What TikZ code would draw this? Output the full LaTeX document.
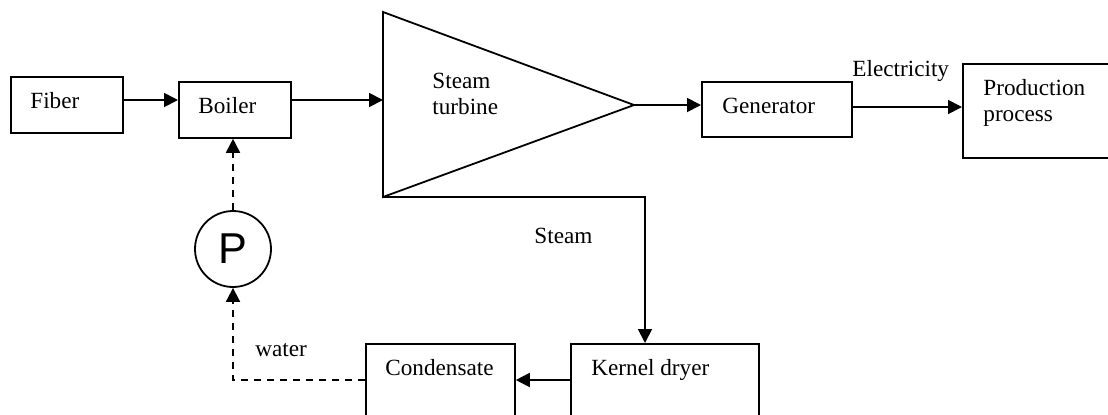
\documentclass[tikz,border=0pt]{standalone}
\usepackage{fontspec}
\setmainfont{Liberation Serif}
\newfontfamily\pumpfont{Liberation Sans}
\usetikzlibrary{arrows.meta}
\begin{document}
\begin{tikzpicture}[x=0.5pt,y=-0.5pt,
  box/.style={draw, line width=0.9pt, inner sep=0pt, anchor=north west},
  txt/.style={inner sep=0pt, font=\fontsize{11.6pt}{13pt}\selectfont},
  arr/.style={line width=0.9pt, -{Triangle[length=7pt,width=7pt]}},
  dsh/.style={arr, dash pattern=on 3.5pt off 3pt}]
\useasboundingbox (0,0) rectangle (1108,414);
\clip (0,0) rectangle (1108,414);
% boxes
\node[box, minimum width=56pt, minimum height=28pt] (fiber) at (10,76) {};
\node[box, minimum width=56pt, minimum height=28pt] (boiler) at (178,81) {};
\node[box, minimum width=75pt, minimum height=27.5pt] (gen) at (701,81) {};
\node[box, minimum width=85pt, minimum height=47pt] (prod) at (962,63) {};
\node[box, minimum width=74.5pt, minimum height=45pt] (cond) at (365,343) {};
\node[box, minimum width=94pt, minimum height=45pt] (kern) at (570,343) {};
\node[draw, circle, line width=0.9pt, minimum size=38pt, inner sep=0pt,
      font=\pumpfont\fontsize{21.6pt}{24pt}\selectfont] (pump) at (233,249) {P};
% turbine
\coordinate (ttop) at (383,12);
\coordinate (tbot) at (383,197);
\coordinate (tapex) at (634,105);
\draw[line width=0.9pt] (ttop) -- (tapex) -- (tbot) -- cycle;
% texts
\node[txt, anchor=base west] (tfiber) at (30,108) {Fiber};
\node[txt, anchor=base west] (tboiler) at (198,113) {Boiler};
\node[txt, anchor=north west, align=left] (tturb) at (432,73) {Steam\\turbine};
\node[txt, anchor=base west] (tgen) at (722,113) {Generator};
\node[txt, anchor=base west] (telec) at (852,76) {Electricity};
\node[txt, anchor=north west, align=left] (tprod) at (983,79) {Production\\process};
\node[txt, anchor=base west] (tsteam) at (534,243) {Steam};
\node[txt, anchor=base west] (twater) at (255,356) {water};
\node[txt, anchor=base west] (tcond) at (385,375) {Condensate};
\node[txt, anchor=base west] (tkern) at (591,375) {Kernel dryer};
% helper rows / columns
\coordinate (r1) at (0,100);
\coordinate (r3) at (0,107);
\coordinate (r4) at (0,380);
\coordinate (c1) at (645,0);
% connectors
\draw[arr] (fiber.east |- r1) -- (boiler.west |- r1);
\draw[arr] (boiler.east |- r1) -- (ttop |- r1);
\draw[arr] (tapex) -- (gen.west |- tapex);
\draw[arr] (gen.east |- r3) -- (prod.west |- r3);
\draw[arr] (tbot) -- (c1 |- tbot) -- (c1 |- kern.north);
\draw[arr] (kern.west |- r4) -- (cond.east |- r4);
\draw[dsh] (cond.west |- r4) -- (pump.south |- r4) -- (pump.south);
\draw[dsh] (pump.north) -- (pump.north |- boiler.south);
\end{tikzpicture}
\end{document}
